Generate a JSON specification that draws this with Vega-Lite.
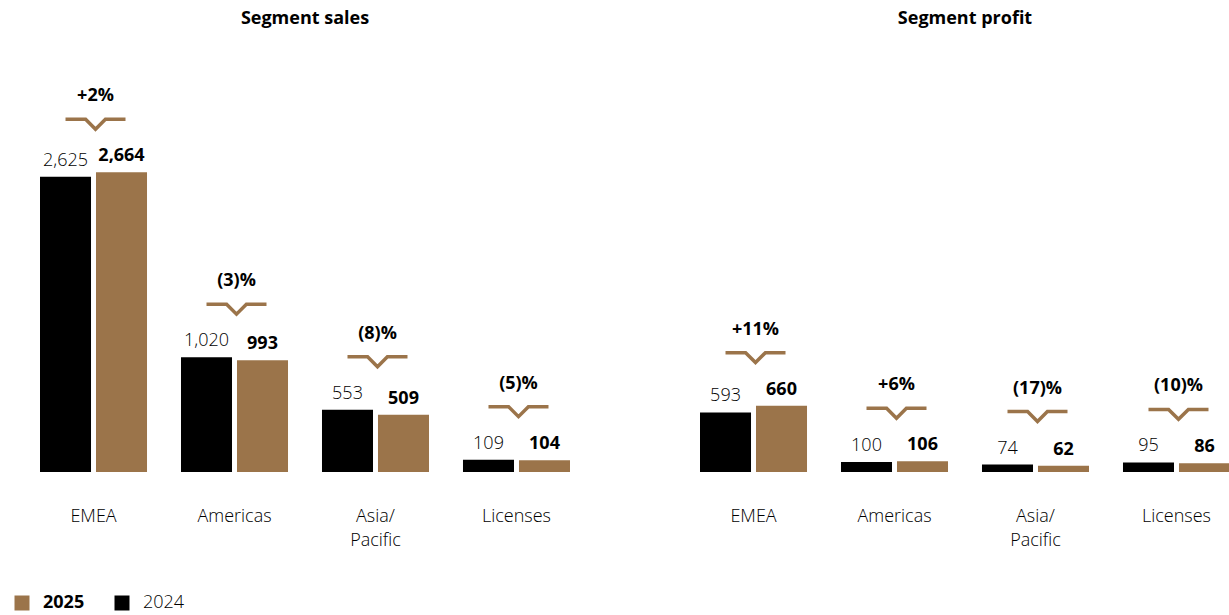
{
  "$schema": "https://vega.github.io/schema/vega-lite/v6.json",
  "padding": {"left": 13, "top": 10, "right": 0, "bottom": 0},
  "config": {
    "view": {"stroke": null},
    "font": "Open Sans",
    "axis": {"domain": false, "ticks": false, "grid": false},
    "title": {"fontSize": 18, "fontWeight": "bold", "color": "#000", "anchor": "middle", "offset": 39}
  },
  "datasets": {
    "bars": [
      {"panel": "sales", "region": "EMEA", "year": "2024", "value": 2625},
      {"panel": "sales", "region": "EMEA", "year": "2025", "value": 2664},
      {"panel": "sales", "region": "Americas", "year": "2024", "value": 1020},
      {"panel": "sales", "region": "Americas", "year": "2025", "value": 993},
      {"panel": "sales", "region": "Asia/Pacific", "year": "2024", "value": 553},
      {"panel": "sales", "region": "Asia/Pacific", "year": "2025", "value": 509},
      {"panel": "sales", "region": "Licenses", "year": "2024", "value": 109},
      {"panel": "sales", "region": "Licenses", "year": "2025", "value": 104},
      {"panel": "profit", "region": "EMEA", "year": "2024", "value": 593},
      {"panel": "profit", "region": "EMEA", "year": "2025", "value": 660},
      {"panel": "profit", "region": "Americas", "year": "2024", "value": 100},
      {"panel": "profit", "region": "Americas", "year": "2025", "value": 106},
      {"panel": "profit", "region": "Asia/Pacific", "year": "2024", "value": 74},
      {"panel": "profit", "region": "Asia/Pacific", "year": "2025", "value": 62},
      {"panel": "profit", "region": "Licenses", "year": "2024", "value": 95},
      {"panel": "profit", "region": "Licenses", "year": "2025", "value": 86}
    ],
    "pct": [
      {"panel": "sales", "region": "EMEA", "max": 2664, "change": "+2%"},
      {"panel": "sales", "region": "Americas", "max": 1020, "change": "(3)%"},
      {"panel": "sales", "region": "Asia/Pacific", "max": 553, "change": "(8)%"},
      {"panel": "sales", "region": "Licenses", "max": 109, "change": "(5)%"},
      {"panel": "profit", "region": "EMEA", "max": 660, "change": "+11%"},
      {"panel": "profit", "region": "Americas", "max": 106, "change": "+6%"},
      {"panel": "profit", "region": "Asia/Pacific", "max": 74, "change": "(17)%"},
      {"panel": "profit", "region": "Licenses", "max": 95, "change": "(10)%"}
    ]
  },
  "spacing": 130,
  "hconcat": [
    {
      "width": 530, "height": 405,
      "title": "Segment sales",
      "encoding": {
        "x": {"field": "region", "type": "nominal", "sort": ["EMEA", "Americas", "Asia/Pacific", "Licenses"],
          "scale": {"paddingInner": 0.241, "paddingOuter": 0},
          "axis": {"title": null, "labelAngle": 0, "labelFontSize": 18, "labelFontWeight": 300, "labelColor": "#000", "labelPadding": 35, "labelLineHeight": 24, "labelBaseline": "top",
            "labelExpr": "datum.label == 'Asia/Pacific' ? ['Asia/', 'Pacific'] : datum.label"}}
      },
      "layer": [
        {
          "data": {"name": "bars"},
          "transform": [{"filter": "datum.panel == 'sales'"}],
          "mark": {"type": "bar"},
          "encoding": {
            "xOffset": {"field": "year", "type": "nominal", "sort": ["2024", "2025"], "scale": {"paddingInner": 0.089, "paddingOuter": 0}},
            "y": {"field": "value", "type": "quantitative", "scale": {"domain": [0, 3600], "nice": false}, "axis": null},
            "color": {"field": "year", "type": "nominal", "scale": {"domain": ["2025", "2024"], "range": ["#9b744a", "#000000"]},
              "legend": {"title": null, "orient": "none", "direction": "horizontal", "legendX": -27, "legendY": 527,
                "symbolType": "square", "symbolSize": 225, "symbolStrokeWidth": 0, "labelFontSize": 18, "labelColor": "#000", "labelOffset": 12, "columnPadding": 28,
                "labelFontWeight": {"expr": "datum.label == '2025' ? 'bold' : 300"}}}
          }
        },
        {
          "data": {"name": "bars"},
          "transform": [{"filter": "datum.panel == 'sales'"}],
          "mark": {"type": "text", "fontSize": 18, "dy": -11, "baseline": "alphabetic", "color": "#000",
            "fontWeight": {"expr": "datum.year == '2025' ? 'bold' : 300"}},
          "encoding": {
            "xOffset": {"field": "year", "type": "nominal", "sort": ["2024", "2025"]},
            "y": {"field": "value", "type": "quantitative"},
            "text": {"field": "value", "type": "quantitative", "format": ",d"}
          }
        },
        {
          "data": {"name": "pct"},
          "transform": [{"filter": "datum.panel == 'sales'"}],
          "mark": {"type": "point", "shape": "M-1,0L-0.33,0L0,0.33L0.33,0L1,0", "filled": false, "size": 3600, "strokeWidth": 3.5, "color": "#9b744a", "opacity": 1, "yOffset": -53, "xOffset": 2},
          "encoding": {
            "y": {"field": "max", "type": "quantitative"}
          }
        },
        {
          "data": {"name": "pct"},
          "transform": [{"filter": "datum.panel == 'sales'"}],
          "mark": {"type": "text", "fontSize": 18, "fontWeight": "bold", "color": "#000", "baseline": "middle", "yOffset": -76, "xOffset": 2},
          "encoding": {
            "y": {"field": "max", "type": "quantitative"},
            "text": {"field": "change", "type": "nominal"}
          }
        }
      ]
    },
    {
      "width": 530, "height": 405,
      "title": "Segment profit",
      "encoding": {
        "x": {"field": "region", "type": "nominal", "sort": ["EMEA", "Americas", "Asia/Pacific", "Licenses"],
          "scale": {"paddingInner": 0.241, "paddingOuter": 0},
          "axis": {"title": null, "labelAngle": 0, "labelFontSize": 18, "labelFontWeight": 300, "labelColor": "#000", "labelPadding": 35, "labelLineHeight": 24, "labelBaseline": "top",
            "labelExpr": "datum.label == 'Asia/Pacific' ? ['Asia/', 'Pacific'] : datum.label"}}
      },
      "layer": [
        {
          "data": {"name": "bars"},
          "transform": [{"filter": "datum.panel == 'profit'"}],
          "mark": {"type": "bar"},
          "encoding": {
            "xOffset": {"field": "year", "type": "nominal", "sort": ["2024", "2025"], "scale": {"paddingInner": 0.089, "paddingOuter": 0}},
            "y": {"field": "value", "type": "quantitative", "scale": {"domain": [0, 4030], "nice": false}, "axis": null},
            "color": {"field": "year", "type": "nominal", "scale": {"domain": ["2025", "2024"], "range": ["#9b744a", "#000000"]}}
          }
        },
        {
          "data": {"name": "bars"},
          "transform": [{"filter": "datum.panel == 'profit'"}],
          "mark": {"type": "text", "fontSize": 18, "dy": -11, "baseline": "alphabetic", "color": "#000",
            "fontWeight": {"expr": "datum.year == '2025' ? 'bold' : 300"}},
          "encoding": {
            "xOffset": {"field": "year", "type": "nominal", "sort": ["2024", "2025"]},
            "y": {"field": "value", "type": "quantitative"},
            "text": {"field": "value", "type": "quantitative", "format": ",d"}
          }
        },
        {
          "data": {"name": "pct"},
          "transform": [{"filter": "datum.panel == 'profit'"}],
          "mark": {"type": "point", "shape": "M-1,0L-0.33,0L0,0.33L0.33,0L1,0", "filled": false, "size": 3600, "strokeWidth": 3.5, "color": "#9b744a", "opacity": 1, "yOffset": -53, "xOffset": 2},
          "encoding": {
            "y": {"field": "max", "type": "quantitative"}
          }
        },
        {
          "data": {"name": "pct"},
          "transform": [{"filter": "datum.panel == 'profit'"}],
          "mark": {"type": "text", "fontSize": 18, "fontWeight": "bold", "color": "#000", "baseline": "middle", "yOffset": -76, "xOffset": 2},
          "encoding": {
            "y": {"field": "max", "type": "quantitative"},
            "text": {"field": "change", "type": "nominal"}
          }
        }
      ]
    }
  ]
}
